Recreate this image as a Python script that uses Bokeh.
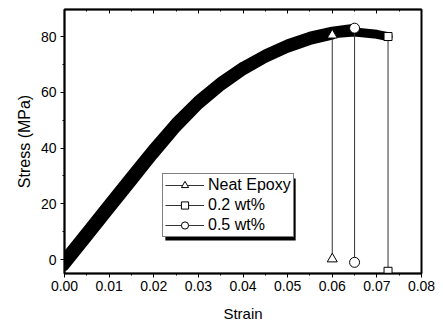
from bokeh.plotting import figure
from bokeh.models import (Range1d, LinearAxis, SingleIntervalTicker, Legend, LegendItem,
                          BoxAnnotation, NumeralTickFormatter)
from bokeh.embed import file_html
from bokeh.resources import INLINE

# ---- data ----
neat_strain = [0.0, 0.005, 0.01, 0.015, 0.02, 0.025, 0.03, 0.035, 0.04, 0.045, 0.05, 0.055, 0.060]
neat_stress = [-2.5, 7.5, 17.5, 27.5, 37.5, 47.0, 55.2, 62.0, 67.6, 72.2, 75.8, 78.6, 80.5]
neat_break = (0.060, 0.2)

w02_strain = [0.0, 0.005, 0.01, 0.015, 0.02, 0.025, 0.03, 0.035, 0.04, 0.045, 0.05, 0.055, 0.06, 0.065, 0.07, 0.0725]
w02_stress = [-1.0, 9.0, 19.0, 29.0, 39.0, 48.3, 56.3, 63.0, 68.5, 73.0, 76.6, 79.3, 81.0, 81.6, 80.8, 80.0]
w02_break = (0.0725, -4.2)

w05_strain = [0.0, 0.005, 0.01, 0.015, 0.02, 0.025, 0.03, 0.035, 0.04, 0.045, 0.05, 0.055, 0.06, 0.065]
w05_stress = [0.5, 10.5, 20.5, 30.5, 40.3, 49.5, 57.4, 64.0, 69.4, 73.8, 77.4, 80.1, 81.9, 83.0]
w05_break = (0.065, -1.0)

labels = ["Neat Epoxy", "0.2 wt%", "0.5 wt%"]
x_label = "Strain"
y_label = "Stress (MPa)"

FONT = "Liberation Sans"

p = figure(width=443, height=324, output_backend="svg", toolbar_location=None,
           x_range=Range1d(0, 0.08), y_range=Range1d(-5, 89.7),
           min_border_left=64, min_border_right=22, min_border_top=9, min_border_bottom=51)
p.background_fill_color = "white"
p.border_fill_color = "white"
p.grid.visible = False
p.outline_line_color = "black"
p.outline_line_width = 2

p.xaxis.ticker = SingleIntervalTicker(interval=0.01, num_minor_ticks=2)
p.yaxis.ticker = SingleIntervalTicker(interval=20, num_minor_ticks=2)
p.xaxis.formatter = NumeralTickFormatter(format="0.00")

for ax in (p.xaxis[0], p.yaxis[0]):
    ax.axis_line_width = 1.5
    ax.axis_line_color = "black"
    ax.major_tick_line_color = "black"
    ax.minor_tick_line_color = "black"
    ax.major_tick_in = 0
    ax.major_tick_out = 4
    ax.minor_tick_in = 0
    ax.minor_tick_out = 2
    ax.major_label_text_font = FONT
    ax.major_label_text_font_size = "14px"
    ax.major_label_text_color = "black"
    ax.axis_label_text_font = FONT
    ax.axis_label_text_font_style = "normal"
    ax.axis_label_text_color = "black"

p.xaxis.axis_label = x_label
p.yaxis.axis_label = y_label
p.xaxis.axis_label_text_font_size = "15px"
p.yaxis.axis_label_text_font_size = "16px"
p.xaxis.major_label_standoff = 3
p.yaxis.major_label_standoff = 4
p.xaxis.axis_label_standoff = 11
p.yaxis.axis_label_standoff = 5

top = LinearAxis(ticker=SingleIntervalTicker(interval=0.01, num_minor_ticks=2),
                 axis_line_width=1.5, major_tick_in=4, major_tick_out=0,
                 minor_tick_in=2, minor_tick_out=0, major_label_text_font_size="0px")
top.major_label_text_alpha = 0
p.add_layout(top, "above")

series = [
    (neat_strain, neat_stress, neat_break, "triangle", 10),
    (w02_strain, w02_stress, w02_break, "square", 8),
    (w05_strain, w05_stress, w05_break, "circle", 10),
]

items = []
for (xs, ys, brk, marker, msize) in series:
    # thick band made by the dense markers of each curve
    p.line(xs, ys, line_width=9, line_color="black", line_join="round", line_cap="round")
for (xs, ys, brk, marker, msize) in series:
    # drop line to break point
    p.line([xs[-1], brk[0]], [ys[-1], brk[1]], line_width=1, line_color="#333333")
for (xs, ys, brk, marker, msize), lab in zip(series, labels):
    p.scatter([xs[-1], brk[0]], [ys[-1], brk[1]], marker=marker, size=msize,
              fill_color="white", line_color="black", line_width=1)
    # legend glyphs (placed outside the visible range)
    lr = p.line([-1, -0.9], [-100, -100], line_width=1, line_color="#333333")
    sr = p.scatter([-1], [-100], marker=marker, size=7, fill_color="white",
                   line_color="black", line_width=1)
    items.append(LegendItem(label=lab, renderers=[lr, sr]))

legend = Legend(items=items, location=(98, 36), margin=0, padding=2, spacing=2,
                glyph_width=39, glyph_height=18, label_height=18, label_standoff=4,
                label_text_font=FONT, label_text_font_size="16px", label_text_color="black",
                border_line_color="black", border_line_width=1,
                background_fill_color="white", background_fill_alpha=1)
p.add_layout(legend, "center")

shadow = BoxAnnotation(left=0.0226, right=0.0518, bottom=6.84, top=29.1,
                       fill_color="black", fill_alpha=1, line_alpha=0, level="underlay")
p.add_layout(shadow)

open("out.html", "w").write(file_html(p, INLINE))
